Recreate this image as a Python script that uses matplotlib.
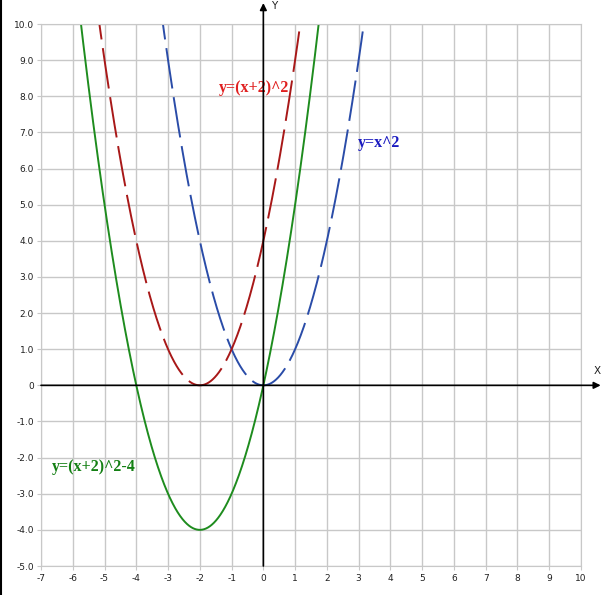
import numpy as np
import matplotlib
matplotlib.use('Agg')
import matplotlib.pyplot as plt
from matplotlib.lines import Line2D

# curves of the form y = (x + shift)^2 + offset
labels = ['y=x^2', 'y=(x+2)^2', 'y=(x+2)^2-4']
shifts = [0, 2, 2]
offsets = [0, 0, -4]
line_colors = ['#2a4ca8', '#a81818', '#1e8c1e']
text_colors = ['#1a1ac0', '#e02020', '#148014']
styles = ['dashed', 'dashed', 'solid']
label_pos = [(2.98, 6.7), (-1.4, 8.23), (-6.65, -2.27)]

x_ticks = list(range(-7, 11))
y_ticks = list(range(-5, 11))

fig = plt.figure(figsize=(6.03, 5.95), dpi=100)
ax = fig.add_axes([41 / 603, 1 - 566 / 595, 540 / 603, 542 / 595])
ax.set_xlim(-7, 10)
ax.set_ylim(-5, 10)

x = np.linspace(-7, 10, 2000)
for lab, s, o, c, st in zip(labels, shifts, offsets, line_colors, styles):
    y = (x + s) ** 2 + o
    ln, = ax.plot(x, y, color=c, lw=1.4)
    if st == 'dashed':
        ln.set_dashes((21, 4.5))

for lab, (tx, ty), c in zip(labels, label_pos, text_colors):
    ax.text(tx, ty, lab, color=c, fontsize=11.5, fontweight='bold',
            family='Liberation Serif', va='center')

ax.set_xticks(x_ticks)
ax.set_yticks(y_ticks)
ax.set_xticklabels([str(t) for t in x_ticks])
ax.set_yticklabels(['0' if t == 0 else '%.1f' % t for t in y_ticks])
ax.tick_params(labelsize=6.5, length=3, color='#c8c8c8', colors='#202020')
ax.tick_params(axis='x', pad=3)
ax.tick_params(axis='y', pad=2)
ax.grid(True, color='#c8c8c8', lw=1)
for sp in ax.spines.values():
    sp.set_color('#c8c8c8')

# axes with arrows
ax.annotate('', xy=(10.62, 0), xytext=(-7, 0), annotation_clip=False,
            arrowprops=dict(arrowstyle='-|>', color='black', lw=1.2,
                            mutation_scale=10, shrinkA=0, shrinkB=0))
ax.annotate('', xy=(0, 10.58), xytext=(0, -5), annotation_clip=False,
            arrowprops=dict(arrowstyle='-|>', color='black', lw=1.2,
                            mutation_scale=10, shrinkA=0, shrinkB=0))
ax.text(10.52, 0.25, 'X', fontsize=7.5, color='#202020', ha='center',
        va='bottom', clip_on=False)
ax.text(0.35, 10.5, 'Y', fontsize=7.5, color='#202020', ha='center',
        va='center', clip_on=False)

fig.add_artist(Line2D([0.002, 0.002], [0, 1], color='black', lw=1.5))

fig.savefig('out.png', dpi=100)
